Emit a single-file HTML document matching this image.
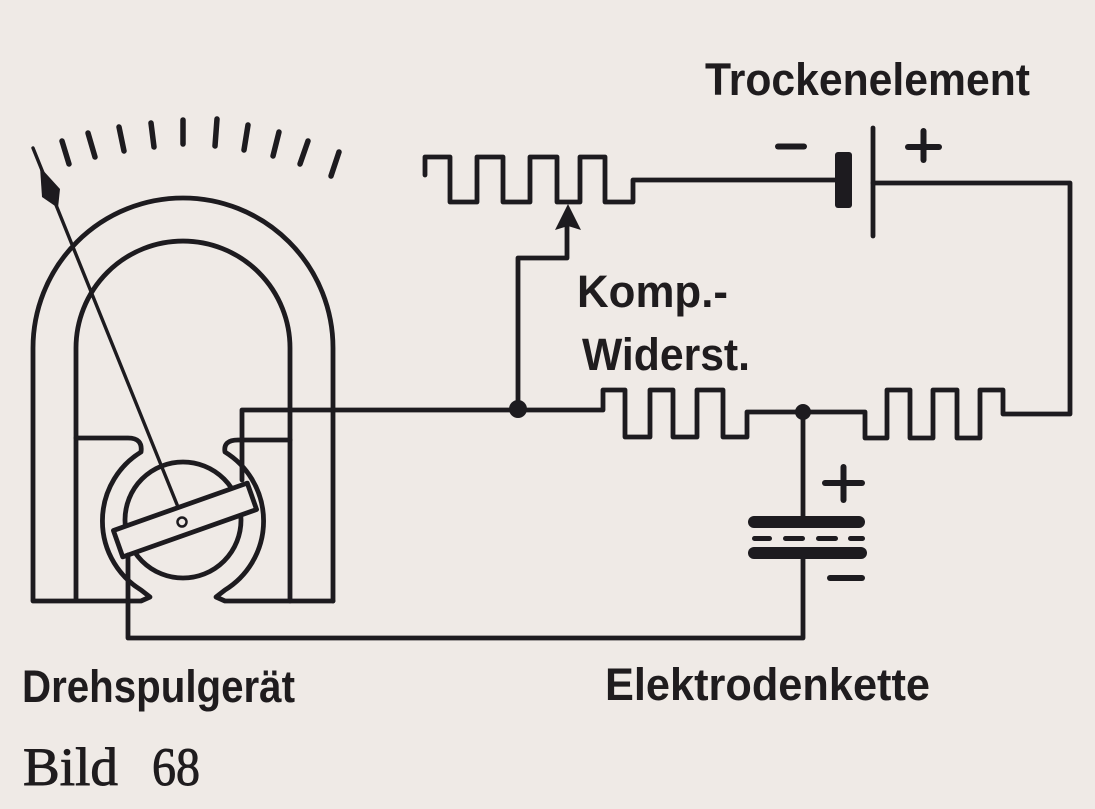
<!DOCTYPE html>
<html><head><meta charset="utf-8"><style>
html,body{margin:0;padding:0;background:#efeae6;}
svg{display:block;}
</style></head><body>
<svg width="1095" height="809" viewBox="0 0 1095 809" xmlns="http://www.w3.org/2000/svg">
<rect width="1095" height="809" fill="#efeae6"/>
<g stroke="#1d1b1f" stroke-width="4.8" fill="none" stroke-linejoin="round" stroke-linecap="round">
  <!-- scale ticks -->
  <g stroke-width="5.5">
    <line x1="62" y1="141" x2="69" y2="164"/>
    <line x1="88" y1="133" x2="95" y2="157"/>
    <line x1="119" y1="127" x2="124" y2="151"/>
    <line x1="151" y1="123" x2="154" y2="147"/>
    <line x1="183" y1="120" x2="183" y2="144"/>
    <line x1="217" y1="119" x2="215" y2="146"/>
    <line x1="248" y1="125" x2="244" y2="150"/>
    <line x1="279" y1="132" x2="273" y2="156"/>
    <line x1="308" y1="141" x2="300" y2="164"/>
    <line x1="339" y1="152" x2="331" y2="176"/>
  </g>
  <!-- horseshoe magnet -->
  <path d="M33,600 V348 A150,150 0 0 1 333,348 V601"/>
  <path d="M76,600 V348 A107,107 0 0 1 290,348 V601"/>
  <path d="M76,438 H128 Q143,438 141,452 A81,81 0 0 0 141,590 L150,597 L141,601 H33"/>
  <path d="M290,440 H238 Q223,440 225,452 A81,81 0 0 1 225,590 L216,597 L225,601 H333"/>
  <!-- rotor -->
  <circle cx="183" cy="520" r="58"/>
  <g transform="translate(185 520) rotate(-19.5)">
    <rect x="-71" y="-14" width="142" height="28" fill="#efeae6"/>
  </g>
  <circle cx="182" cy="522" r="4.5" stroke-width="2.5"/>
  <!-- needle -->
  <line x1="33" y1="148" x2="178" y2="507" stroke-width="3.4"/>
  <!-- wires -->
  <path d="M242,480 V410 H518"/>
  <path d="M128,555 V638 H803 V559"/>
  <path d="M518,410 V258 H567 V226"/>
  <!-- top resistor + battery wire -->
  <path d="M425,175 V157 H450 V202 H477 V157 H503 V202 H530 V157 H557 V202 H580 V157 H605 V202 H633 V180 H836"/>
  <path d="M873,183 H1070 V414 H1003 V390 H980 V438 H957 V390 H933 V438 H910 V390 H887 V438 H865 V412 H747 V437 H723 V390 H697 V437 H673 V390 H650 V437 H625 V390 H603 V410 H518"/>
  <path d="M803,412 V518"/>
  <!-- battery -->
  <line x1="873" y1="128" x2="873" y2="236" stroke-width="4.8"/>
</g>
<g fill="#1d1b1f">
  <polygon points="40,167 60,189 58,208 42,197"/>
  <circle cx="518" cy="409" r="9"/>
  <circle cx="803" cy="412" r="8"/>
  <polygon points="568,204 581,230 568,226 555,230"/>
  <rect x="835" y="152" width="17" height="56" rx="3"/>
  <!-- battery signs -->
  <rect x="775" y="143.5" width="32" height="6" rx="3"/>
  <rect x="905" y="144" width="37" height="6" rx="3"/>
  <rect x="920.5" y="128" width="6" height="35" rx="3"/>
  <!-- capacitor -->
  <rect x="748" y="516" width="117" height="12" rx="6"/>
  <rect x="748" y="547" width="119" height="12" rx="6"/>
  <rect x="752" y="536" width="20" height="5" rx="2.5"/>
  <rect x="783" y="536" width="22" height="5" rx="2.5"/>
  <rect x="816" y="536" width="22" height="5" rx="2.5"/>
  <rect x="848" y="536" width="17" height="5" rx="2.5"/>
  <rect x="822" y="480" width="43" height="6" rx="3"/>
  <rect x="840.5" y="464" width="6" height="39" rx="3"/>
  <rect x="827" y="575" width="38" height="6" rx="3"/>
</g>
<g font-family="'Liberation Sans', sans-serif" font-weight="bold" font-size="45" fill="#1f1c1e">
  <text x="705" y="95" textLength="325" lengthAdjust="spacingAndGlyphs">Trockenelement</text>
  <text x="577" y="307" textLength="151" lengthAdjust="spacingAndGlyphs">Komp.-</text>
  <text x="582" y="370" textLength="168" lengthAdjust="spacingAndGlyphs">Widerst.</text>
  <text x="22" y="702" textLength="273" lengthAdjust="spacingAndGlyphs">Drehspulgerät</text>
  <text x="605" y="700" textLength="325" lengthAdjust="spacingAndGlyphs">Elektrodenkette</text>
</g>
<g font-family="'Liberation Serif', serif" font-size="54" fill="#1f1c1e" stroke="#1f1c1e" stroke-width="0.9">
  <text x="23" y="785" textLength="95" lengthAdjust="spacingAndGlyphs">Bild</text>
  <text x="152" y="785" textLength="48" lengthAdjust="spacingAndGlyphs">68</text>
</g>
</svg>
</body></html>
